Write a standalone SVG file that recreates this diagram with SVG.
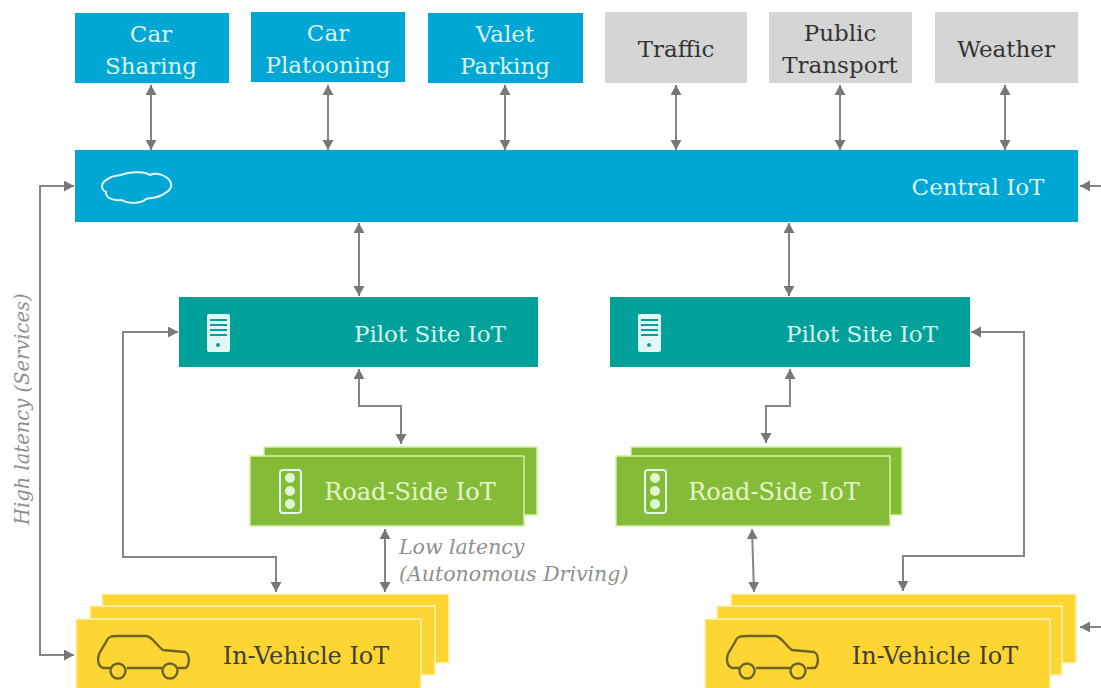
<svg xmlns="http://www.w3.org/2000/svg" width="1101" height="688" viewBox="0 0 1101 688">
<style>
text{font-family:"DejaVu Serif","Liberation Serif",serif;font-size:23px;text-anchor:middle}
.l{fill:#d9f3ef}
.g{fill:#e4f6c8;font-size:24px}
.k{fill:#3f3f33;font-size:24px}
.d{fill:#333}
.i{font-style:italic;fill:#8f8f8f;font-size:20.5px;text-anchor:start}
.blue{fill:#00a7d4}.gray{fill:#d5d5d5}.teal{fill:#00a19a}.green{fill:#84bc38;stroke:#d4f0a8;stroke-width:1.5}.yel{fill:#fed634;stroke:#fdf3bf;stroke-width:1.5}
.c{fill:none;stroke:#858585;stroke-width:2;marker-start:url(#a);marker-end:url(#a)}
.e{fill:none;stroke:#858585;stroke-width:2;marker-end:url(#a)}
.ic{fill:none;stroke:#e2f6f3;stroke-width:2}
.car{fill:none;stroke:#6b6426;stroke-width:2.4}
</style>
<defs><marker id="a" markerUnits="userSpaceOnUse" markerWidth="12" markerHeight="12" refX="10" refY="5.5" orient="auto-start-reverse"><path d="M0 0L10 5.5L0 11Z" fill="#777"/></marker></defs>
<g id="connectors">
<path class="c" d="M151 85V150"/><path class="c" d="M328 85V150"/><path class="c" d="M505 85V150"/><path class="c" d="M676 85V150"/><path class="c" d="M840 85V150"/><path class="c" d="M1005 85V150"/>
<path class="c" d="M359 223V296"/><path class="c" d="M789 223V296"/>
<path class="c" d="M359 369V406H401V444"/><path class="c" d="M790 369V406H766V443"/>
<path class="c" d="M385 529V592"/><path class="c" d="M752 529L754 592"/>
<path class="c" d="M178 332H123V557H276V592"/><path class="c" d="M971 332H1024V556H903V591"/>
<path class="c" d="M74 186H40V655H74"/>
<path class="e" d="M1101 186H1080"/><path class="e" d="M1101 627H1080"/>
</g>
<g id="car-sharing"><rect class="blue" x="75" y="13" width="154" height="70"/><text class="l" x="151" y="42">Car</text><text class="l" x="151" y="74">Sharing</text></g>
<g id="car-platooning"><rect class="blue" x="251" y="12" width="154" height="70"/><text class="l" x="328" y="41">Car</text><text class="l" x="328" y="73">Platooning</text></g>
<g id="valet-parking"><rect class="blue" x="428" y="13" width="155" height="70"/><text class="l" x="505" y="42">Valet</text><text class="l" x="505" y="74">Parking</text></g>
<g id="traffic"><rect class="gray" x="605" y="12" width="142" height="71"/><text class="d" x="676" y="57">Traffic</text></g>
<g id="public-transport"><rect class="gray" x="769" y="12" width="143" height="71"/><text class="d" x="840" y="41">Public</text><text class="d" x="840" y="73">Transport</text></g>
<g id="weather"><rect class="gray" x="935" y="12" width="143" height="71"/><text class="d" x="1006" y="57">Weather</text></g>
<g id="central-iot"><rect class="blue" x="75" y="150" width="1003" height="72"/>
<path class="ic" d="M108 179C112 175 120 176 124 174C132 171 146 172 150 175C156 172 166 175 170 181C173 186 170 191 165 193C160 198 150 198 146 199C141 204 128 204 122 200C114 201 105 198 106 192C100 189 101 182 108 179Z"/>
<text class="l" x="978" y="195">Central IoT</text></g>
<g id="pilot-site-left"><rect class="teal" x="179" y="297" width="359" height="70"/>
<rect x="207" y="314" width="23" height="38" rx="2" fill="#e2f6f3"/><path d="M210 320H227M210 325H227M210 330H227M210 335H227" stroke="#00a19a" stroke-width="2"/><circle cx="218" cy="345" r="2" fill="#00a19a"/>
<text class="l" x="430" y="342">Pilot Site IoT</text></g>
<g id="pilot-site-right"><rect class="teal" x="610" y="297" width="360" height="70"/>
<rect x="638" y="314" width="23" height="38" rx="2" fill="#e2f6f3"/><path d="M641 320H658M641 325H658M641 330H658M641 335H658" stroke="#00a19a" stroke-width="2"/><circle cx="649" cy="345" r="2" fill="#00a19a"/>
<text class="l" x="862" y="342">Pilot Site IoT</text></g>
<g id="road-side-left"><rect class="green" x="264" y="447" width="273" height="68"/><rect class="green" x="250" y="456" width="274" height="70"/>
<rect class="ic" x="280" y="470" width="21" height="43" rx="3"/><circle cx="290" cy="478" r="5" fill="#e2f6d0"/><circle cx="290" cy="491" r="5" fill="#e2f6d0"/><circle cx="290" cy="504" r="5" fill="#e2f6d0"/>
<text class="g" x="410" y="500">Road-Side IoT</text></g>
<g id="road-side-right"><rect class="green" x="631" y="447" width="271" height="68"/><rect class="green" x="616" y="456" width="274" height="70"/>
<rect class="ic" x="645" y="470" width="21" height="43" rx="3"/><circle cx="655" cy="478" r="5" fill="#e2f6d0"/><circle cx="655" cy="491" r="5" fill="#e2f6d0"/><circle cx="655" cy="504" r="5" fill="#e2f6d0"/>
<text class="g" x="774" y="500">Road-Side IoT</text></g>
<g id="in-vehicle-left"><rect class="yel" x="102" y="594" width="347" height="69"/><rect class="yel" x="90" y="606" width="345" height="69"/><rect class="yel" x="76" y="619" width="345" height="70"/>
<path class="car" d="M111 668H103C98 666 97 660 99 654L106 642C108 636 112 636 118 636H146C152 636 156 645 163 650L185 652C190 654 190 664 186 668H178M127 668H162"/><circle class="car" cx="118" cy="671" r="7.5"/><circle class="car" cx="170" cy="671" r="7.5"/>
<text class="k" x="306" y="664">In-Vehicle IoT</text></g>
<g id="in-vehicle-right"><rect class="yel" x="731" y="594" width="345" height="69"/><rect class="yel" x="717" y="606" width="345" height="69"/><rect class="yel" x="705" y="619" width="345" height="70"/>
<path class="car" d="M740 668H732C727 666 726 660 728 654L735 642C737 636 741 636 747 636H775C781 636 785 645 792 650L814 652C819 654 819 664 815 668H807M756 668H791"/><circle class="car" cx="747" cy="671" r="7.5"/><circle class="car" cx="798" cy="671" r="7.5"/>
<text class="k" x="935" y="664">In-Vehicle IoT</text></g>
<text class="i" style="font-size:19.5px" transform="translate(29 525) rotate(-90)">High latency (Services)</text>
<text class="i" x="399" y="554">Low latency</text>
<text class="i" x="399" y="581">(Autonomous Driving)</text>
</svg>
